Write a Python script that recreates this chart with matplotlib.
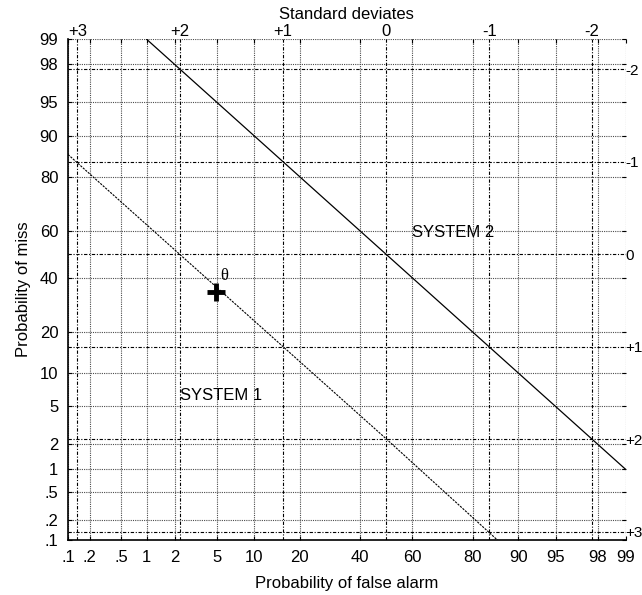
import matplotlib
matplotlib.use("Agg")
import matplotlib.pyplot as plt
from statistics import NormalDist

plt.rcParams['font.family'] = ['Liberation Sans', 'DejaVu Sans']

# probability ticks (percent) and their labels
prob_ticks = [0.1, 0.2, 0.5, 1, 2, 5, 10, 20, 40, 60, 80, 90, 95, 98, 99]
prob_labels = ['.1', '.2', '.5', '1', '2', '5', '10', '20', '40', '60', '80', '90', '95', '98', '99']

# standard deviates drawn as dash-dot lines
dev_x = [-3, -2, -1, 0, 1, 2]
dev_x_labels = ['+3', '+2', '+1', '0', '-1', '-2']
dev_y = [2, 1, 0, -1, -2, -3]
dev_y_labels = ['-2', '-1', '0', '+1', '+2', '+3']

# DET lines (percent)
sys1_pfa = [0.1, 50, 86]
sys1_pmiss = [86, 2.3, 0.1]
sys2_pfa = [1, 50, 99]
sys2_pmiss = [99, 50, 1]

# operating point theta
op_pfa = 4.9
op_pmiss = 34


def probit(p):
    return NormalDist().inv_cdf(p / 100.0)


fig = plt.figure(figsize=(6.42, 5.95), dpi=100)
ax = fig.add_axes([0.1059, 0.0924, 0.8687, 0.8416])

lo, hi = probit(0.1), probit(99)
ax.set_xlim(lo, hi)
ax.set_ylim(lo, hi)

# dotted grid on probability ticks
for p in prob_ticks:
    ax.axvline(probit(p), color='0.3', ls=(0, (1, 1)), lw=0.8, zorder=1)
    ax.axhline(probit(p), color='0.3', ls=(0, (1, 1)), lw=0.8, zorder=1)

# dash-dot lines at standard deviates
for d in dev_x:
    ax.axvline(d, color='black', ls=(0, (3, 1.5, 1, 1.5)), lw=0.8, zorder=1)
for d in dev_y:
    ax.axhline(d, color='black', ls=(0, (3, 1.5, 1, 1.5)), lw=0.8, zorder=1)

ax.plot([probit(v) for v in sys2_pfa], [probit(v) for v in sys2_pmiss],
        color='black', lw=0.9, zorder=3)
ax.plot([probit(v) for v in sys1_pfa], [probit(v) for v in sys1_pmiss],
        color='black', lw=0.8, ls=(0, (2, 1)), zorder=3)
ax.plot(probit(op_pfa), probit(op_pmiss), marker='+', ms=13, mew=3.5,
        color='black', zorder=4)
ax.text(probit(op_pfa) + 0.04, probit(op_pmiss) + 0.18, 'θ',
        family=['Liberation Serif', 'DejaVu Serif'], fontsize=12, va='center')

ax.text(probit(2.26), probit(6.4), 'SYSTEM 1', fontsize=12, va='center')
ax.text(probit(60), probit(59.5), 'SYSTEM 2', fontsize=12, va='center')

ax.set_xticks([probit(p) for p in prob_ticks])
ax.set_xticklabels(prob_labels)
ax.set_yticks([probit(p) for p in prob_ticks])
ax.set_yticklabels(prob_labels)
ax.tick_params(direction='in', length=3, top=True, right=True,
               labelsize=12, pad=7)
ax.spines['top'].set_visible(False)
ax.spines['right'].set_visible(False)
ax.spines['left'].set_linewidth(1.2)
ax.spines['bottom'].set_linewidth(1.2)

ax.set_xlabel('Probability of false alarm', fontsize=12, labelpad=8)
ax.set_ylabel('Probability of miss', fontsize=12, labelpad=6)

top = ax.secondary_xaxis('top')
top.set_xticks(dev_x)
top.set_xticklabels(dev_x_labels)
top.tick_params(length=0, labelsize=12, pad=0.5)
top.spines['top'].set_visible(False)
top.set_xlabel('Standard deviates', fontsize=12, labelpad=3)

right = ax.secondary_yaxis('right')
right.set_yticks(dev_y)
right.set_yticklabels(dev_y_labels)
right.tick_params(length=0, labelsize=11, pad=0)
right.spines['right'].set_visible(False)

fig.savefig('out.png', dpi=100)
